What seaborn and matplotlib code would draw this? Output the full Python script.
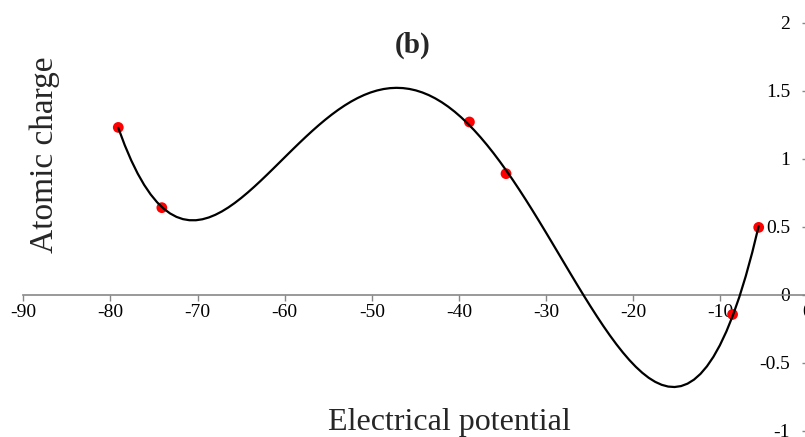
import matplotlib
matplotlib.use("Agg")
import matplotlib.pyplot as plt
import seaborn as sns
import pandas as pd

# Data
potential = [-79.1, -74.1, -38.8, -34.6, -8.6, -5.6]
charge = [1.23, 0.64, 1.27, 0.89, -0.145, 0.495]
x_ticks = [-90, -80, -70, -60, -50, -40, -30, -20, -10, 0]
y_ticks = [-1, -0.5, 0, 0.5, 1, 1.5, 2]
y_tick_labels = ["-1", "-0.5", "0", "0.5", "1", "1.5", "2"]

df = pd.DataFrame({"Electrical potential": potential, "Atomic charge": charge})

sns.set_style("white")
plt.rcParams["font.family"] = ["Liberation Serif", "DejaVu Serif"]

fig = plt.figure(figsize=(8.05, 4.37), dpi=100)
W, H = 805, 437
x_left, x_right = 23.3, 807.5
y_top, y_bot = 22.7, 430.7
ax = fig.add_axes([x_left / W, (H - y_bot) / H, (x_right - x_left) / W, (y_bot - y_top) / H])

sns.regplot(data=df, x="Electrical potential", y="Atomic charge", order=4, ci=None,
            ax=ax,
            scatter_kws=dict(color="#ff0000", s=60, edgecolor="none", alpha=1, zorder=2),
            line_kws=dict(color="black", lw=1.6, zorder=3))

ax.set_xlim(-90, 0)
ax.set_ylim(-1, 2)
ax.set_xticks(x_ticks)
ax.set_xticklabels([str(t) for t in x_ticks])
ax.set_yticks(y_ticks)
ax.set_yticklabels(y_tick_labels)

axis_col = "#878787"
for s in ["top", "right"]:
    ax.spines[s].set_visible(False)
ax.spines["bottom"].set_position(("data", 0))
ax.spines["left"].set_position(("data", 0))
ax.spines["bottom"].set_color(axis_col)
ax.spines["left"].set_color(axis_col)
ax.spines["bottom"].set_linewidth(1.2)
ax.spines["left"].set_linewidth(1.2)
ax.tick_params(axis="both", direction="out", length=4.5, width=1, color=axis_col,
               labelsize=14, labelcolor="black")
ax.tick_params(axis="x", bottom=True, pad=2.5)
ax.tick_params(axis="y", left=True, pad=8)

ax.set_xlabel("")
ax.set_ylabel("")
fig.text(449 / W, 1 - 430 / H, "Electrical potential", fontsize=23,
         ha="center", va="baseline")
fig.text(53 / W, 1 - 155 / H, "Atomic charge", fontsize=24, ha="center", va="baseline",
         rotation=90, rotation_mode="anchor")
fig.text(413 / W, 1 - 53 / H, "(b)", fontsize=21, fontweight="bold", ha="center", va="baseline")

fig.savefig("out.png", dpi=100)
